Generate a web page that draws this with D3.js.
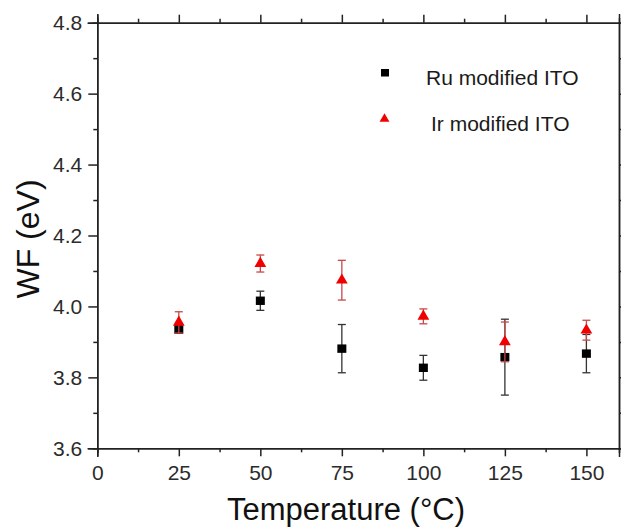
<!DOCTYPE html>
<html>
<head>
<meta charset="utf-8">
<script src="https://cdn.jsdelivr.net/npm/d3@7"></script>
<style>
  body { margin: 0; background: #fff; }
  svg text { font-family: Arial, "Liberation Sans", sans-serif; }
</style>
</head>
<body>
<div id="chart"></div>
<script>
const width = 621
const height = 529

// data
const temps = [25, 50, 75, 100, 125, 150]
const ruWF = [3.935, 4.016, 3.881, 3.827, 3.857, 3.867]
const ruErr = [0.010, 0.027, 0.068, 0.035, 0.107, 0.054]
const irWF = [3.955, 4.121, 4.074, 3.972, 3.900, 3.933]
const irErr = [0.030, 0.024, 0.056, 0.021, 0.056, 0.028]
const xTicks = [0, 25, 50, 75, 100, 125, 150]
const xMinor = [12.5, 37.5, 62.5, 87.5, 112.5, 137.5]
const yTicks = [3.6, 3.8, 4.0, 4.2, 4.4, 4.6, 4.8]
const yMinor = [3.7, 3.9, 4.1, 4.3, 4.5, 4.7]
const seriesNames = ["Ru modified ITO", "Ir modified ITO"]

const plot = { left: 97.3, right: 619, top: 22.7, bottom: 448.3 }

const svg = d3.select("#chart").append("svg")
    .attr("width", width).attr("height", height)

const x = d3.scaleLinear().domain([0, 160]).range([plot.left, plot.right])
const y = d3.scaleLinear().domain([3.6, 4.8]).range([plot.bottom, plot.top])

const axisColor = "#222"

function styleAxis(g) {
    g.select(".domain").attr("stroke", axisColor).attr("stroke-width", 1.5)
    g.selectAll(".tick line").attr("stroke", axisColor).attr("stroke-width", 1.5)
    g.selectAll(".tick text").attr("fill", "#2b2b2b").attr("font-size", 21)
}

// bottom
svg.append("g").attr("transform", `translate(0,${plot.bottom})`)
    .call(d3.axisBottom(x).tickValues(xTicks).tickSize(8).tickPadding(9).tickFormat(d3.format("d")))
    .call(styleAxis)
svg.append("g").attr("transform", `translate(0,${plot.bottom})`)
    .call(d3.axisBottom(x).tickValues(xMinor).tickSize(4).tickFormat(""))
    .call(styleAxis)
// top
svg.append("g").attr("transform", `translate(0,${plot.top})`)
    .call(d3.axisTop(x).tickValues(xTicks).tickSize(8).tickFormat(""))
    .call(styleAxis)
svg.append("g").attr("transform", `translate(0,${plot.top})`)
    .call(d3.axisTop(x).tickValues(xMinor).tickSize(4).tickFormat(""))
    .call(styleAxis)
// left
svg.append("g").attr("transform", `translate(${plot.left},0)`)
    .call(d3.axisLeft(y).tickValues(yTicks).tickSize(9).tickPadding(6).tickFormat(d3.format(".1f")))
    .call(styleAxis)
svg.append("g").attr("transform", `translate(${plot.left},0)`)
    .call(d3.axisLeft(y).tickValues(yMinor).tickSize(4).tickFormat(""))
    .call(styleAxis)
// right
svg.append("g").attr("transform", `translate(${plot.right},0)`)
    .call(d3.axisRight(y).tickValues(yTicks).tickSize(8).tickFormat(""))
    .call(styleAxis)
svg.append("g").attr("transform", `translate(${plot.right},0)`)
    .call(d3.axisRight(y).tickValues(yMinor).tickSize(4).tickFormat(""))
    .call(styleAxis)

svg.selectAll(".domain").attr("stroke-linecap", "square")

// axis titles
svg.append("text")
    .text("Temperature (°C)")
    .attr("x", 346).attr("y", 520)
    .attr("text-anchor", "middle")
    .attr("font-size", 31)
    .attr("fill", "#111")

svg.append("text")
    .text("WF (eV)")
    .attr("transform", "translate(39,239) rotate(-90)")
    .attr("text-anchor", "middle")
    .attr("font-size", 32)
    .attr("fill", "#111")

const elementGroup = svg.append("g")
const capW = 4

function drawErrors(vals, errs, color) {
    const g = elementGroup.append("g").attr("stroke", color).attr("stroke-width", 1.3)
    temps.forEach((t, i) => {
        const cx = x(t)
        const y1 = y(vals[i] + errs[i]), y2 = y(vals[i] - errs[i])
        g.append("line").attr("x1", cx).attr("x2", cx).attr("y1", y1).attr("y2", y2)
        g.append("line").attr("x1", cx - capW).attr("x2", cx + capW).attr("y1", y1).attr("y2", y1)
        g.append("line").attr("x1", cx - capW).attr("x2", cx + capW).attr("y1", y2).attr("y2", y2)
    })
}

// Ru series
drawErrors(ruWF, ruErr, "#333")
elementGroup.selectAll(".ru")
    .data(temps)
    .join("rect")
        .attr("class", "ru")
        .attr("x", d => x(d) - 4.5)
        .attr("y", (d, i) => y(ruWF[i]) - 4.2)
        .attr("width", 9)
        .attr("height", 8.4)
        .attr("fill", "#000")

// Ir series
drawErrors(irWF, irErr, "#c84848")
const tri = d3.symbol().type(d3.symbolTriangle).size(60)
elementGroup.selectAll(".ir")
    .data(temps)
    .join("path")
        .attr("class", "ir")
        .attr("d", tri)
        .attr("transform", (d, i) => `translate(${x(d)},${y(irWF[i])})`)
        .attr("fill", "#f00000")

// legend
const legend = svg.append("g")
legend.append("rect")
    .attr("x", 381).attr("y", 69).attr("width", 8).attr("height", 7.5)
    .attr("fill", "#000")
legend.append("path")
    .attr("d", d3.symbol().type(d3.symbolTriangle).size(42))
    .attr("transform", "translate(384.5,119)")
    .attr("fill", "#f00000")
legend.selectAll(".lt")
    .data(seriesNames)
    .join("text")
        .attr("class", "lt")
        .text(d => d)
        .attr("x", (d, i) => i === 0 ? 426 : 431)
        .attr("y", (d, i) => i === 0 ? 85 : 131)
        .attr("font-size", 21)
        .attr("fill", "#1a1a1a")
</script>
</body>
</html>
